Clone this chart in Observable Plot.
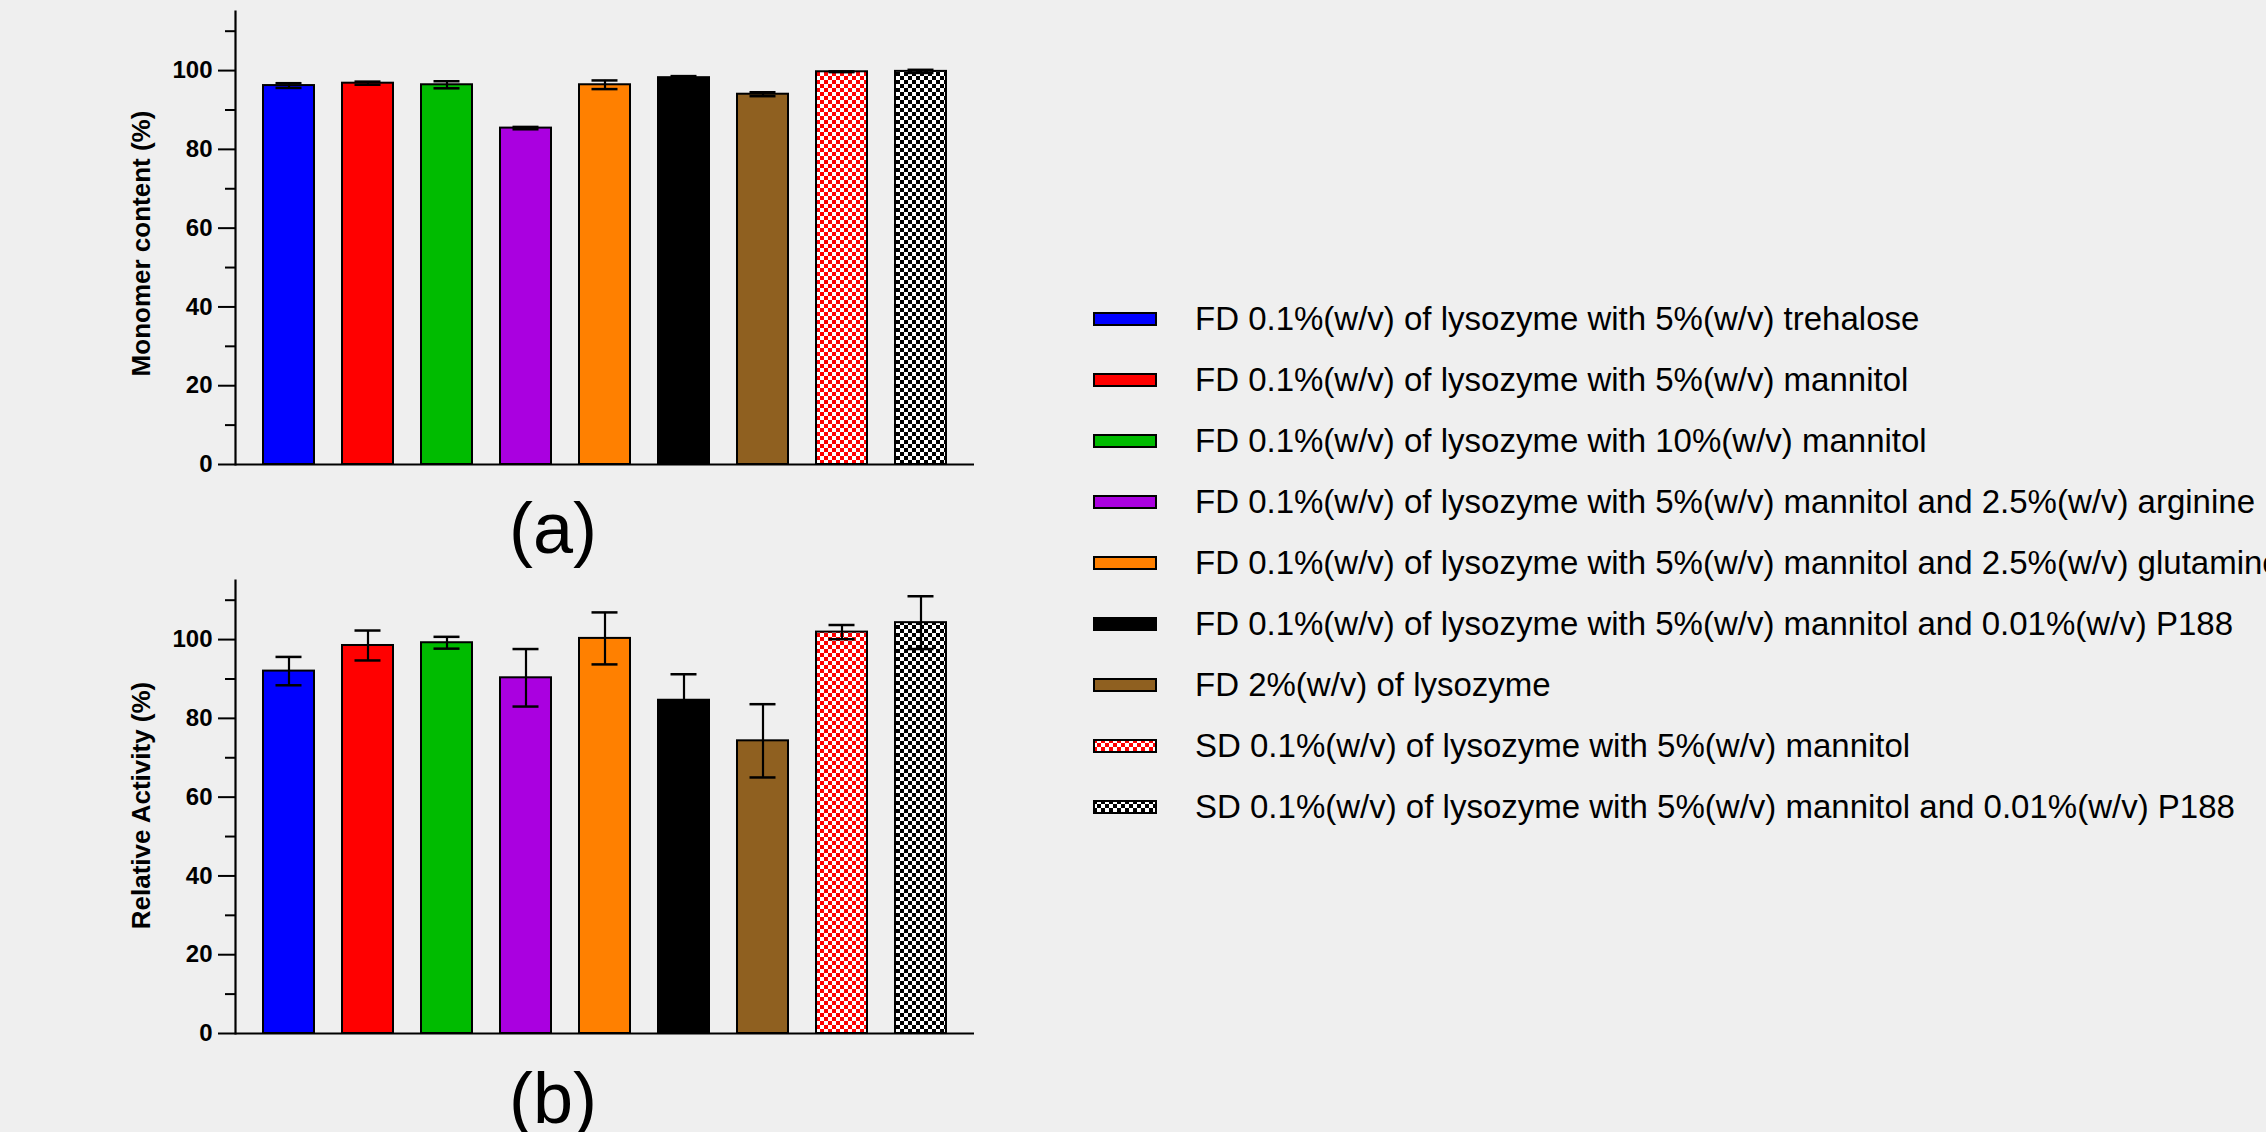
<!DOCTYPE html>
<html>
<head>
<meta charset="utf-8">
<script src="https://cdn.jsdelivr.net/npm/d3@7"></script>
<script src="https://cdn.jsdelivr.net/npm/@observablehq/plot@0.6"></script>
<style>
  html, body { margin: 0; padding: 0; background: #efefef; width: 2266px; height: 1132px; overflow: hidden;
    font-family: "Liberation Sans", Arial, sans-serif; color: #000; }
  #top { position: absolute; left: 0; top: 0; }
  #bottom { position: absolute; left: 0; top: 569px; }
  .panel { position: absolute; width: 200px; margin-left: -100px; text-align: center; font-size: 72px; line-height: 72px; }
  #legend { position: absolute; left: 1093px; top: 288px; }
  .row { height: 61.1px; display: flex; align-items: center; white-space: nowrap; font-size: 33px; }
  .row svg { display: block; margin-right: 38px; }
</style>
</head>
<body>
<svg width="0" height="0" style="position:absolute">
  <defs>
    <pattern id="checkRed" patternUnits="userSpaceOnUse" width="8" height="8">
      <rect width="8" height="8" fill="#ffffff"/>
      <rect width="4" height="4" fill="#ff0000"/>
      <rect x="4" y="4" width="4" height="4" fill="#ff0000"/>
    </pattern>
    <pattern id="checkBlack" patternUnits="userSpaceOnUse" width="8" height="8">
      <rect width="8" height="8" fill="#ffffff"/>
      <rect width="4" height="4" fill="#000000"/>
      <rect x="4" y="4" width="4" height="4" fill="#000000"/>
    </pattern>
  </defs>
</svg>
<div id="top"></div>
<div id="bottom"></div>
<div class="panel" style="left:553px; top:492px;">(a)</div>
<div class="panel" style="left:553px; top:1062px;">(b)</div>
<div id="legend"></div>
<script>
const categories = [
  "FD 0.1%(w/v) of lysozyme with 5%(w/v) trehalose",
  "FD 0.1%(w/v) of lysozyme with 5%(w/v) mannitol",
  "FD 0.1%(w/v) of lysozyme with 10%(w/v) mannitol",
  "FD 0.1%(w/v) of lysozyme with 5%(w/v) mannitol and 2.5%(w/v) arginine",
  "FD 0.1%(w/v) of lysozyme with 5%(w/v) mannitol and 2.5%(w/v) glutamine",
  "FD 0.1%(w/v) of lysozyme with 5%(w/v) mannitol and 0.01%(w/v) P188",
  "FD 2%(w/v) of lysozyme",
  "SD 0.1%(w/v) of lysozyme with 5%(w/v) mannitol",
  "SD 0.1%(w/v) of lysozyme with 5%(w/v) mannitol and 0.01%(w/v) P188"
];
const colors = ["#0000ff", "#ff0000", "#00bb00", "#aa00e0", "#ff8000", "#000000", "#8f6020", "url(#checkRed)", "url(#checkBlack)"];

const monomer    = [96.2, 96.8, 96.4, 85.4, 96.4, 98.2, 94.0, 99.7, 99.8];
const monomerErr = [0.6, 0.4, 0.9, 0.3, 1.1, 0.4, 0.5, 0.1, 0.4];

const activity    = [92.0, 98.5, 99.2, 90.3, 100.3, 84.6, 74.3, 101.9, 104.3];
const activityErr = [3.6, 3.8, 1.5, 7.3, 6.6, 6.6, 9.3, 1.8, 6.7];

const majorTicks = [0, 20, 40, 60, 80, 100];
const minorTicks = [10, 30, 50, 70, 90, 110];

function chart(values, errs, label, labelShift) {
  const data = categories.map((c, i) => ({category: c, value: values[i], lo: values[i] - errs[i], hi: values[i] + errs[i]}));
  return Plot.plot({
    width: 1000, height: 480,
    marginLeft: 235, marginRight: 26, marginTop: 11, marginBottom: 16,
    style: {background: "transparent", color: "#000", fontFamily: "'Liberation Sans', Arial, sans-serif", fontSize: "24px", fontWeight: "bold", overflow: "visible"},
    x: {domain: categories, axis: null, paddingInner: 0.355, paddingOuter: 0.348},
    y: {domain: [0, 115], axis: null},
    color: {type: "ordinal", domain: categories, range: colors},
    marks: [
      Plot.barY(data, {x: "category", y: "value", fill: "category", stroke: "#000", strokeWidth: 2}),
      Plot.ruleX(data, {x: "category", y1: "lo", y2: "hi", stroke: "#000", strokeWidth: 2.2}),
      Plot.tickY(data, {x: "category", y: "hi", inset: 12.5, stroke: "#000", strokeWidth: 2.5}),
      Plot.tickY(data, {x: "category", y: "lo", inset: 12.5, stroke: "#000", strokeWidth: 2.5}),
      Plot.axisY({ticks: minorTicks, tickSize: 10, text: null, label: null, strokeWidth: 2}),
      Plot.axisY({ticks: majorTicks, tickSize: 17, tickPadding: 6, label: null, strokeWidth: 2}),
      Plot.text([label], {frameAnchor: "left", textAnchor: "middle", lineAnchor: "middle", dx: -93.5, dy: labelShift, rotate: -90, fontSize: 26, fontWeight: "bold"}),
      Plot.frame({anchor: "left", strokeWidth: 2.2}),
      Plot.ruleY([0], {strokeWidth: 2.2})
    ]
  });
}

document.getElementById("top").append(chart(monomer, monomerErr, "Monomer content (%)", 5.5));
document.getElementById("bottom").append(chart(activity, activityErr, "Relative Activity (%)", -1.5));

const legend = d3.select("#legend");
categories.forEach((c, i) => {
  const row = legend.append("div").attr("class", "row");
  const svg = row.append("svg").attr("width", 64).attr("height", 14);
  svg.append("rect").attr("x", 1).attr("y", 1).attr("width", 62).attr("height", 12)
    .attr("fill", colors[i]).attr("stroke", "#000").attr("stroke-width", 2);
  row.append("span").text(c);
});
</script>
</body>
</html>
